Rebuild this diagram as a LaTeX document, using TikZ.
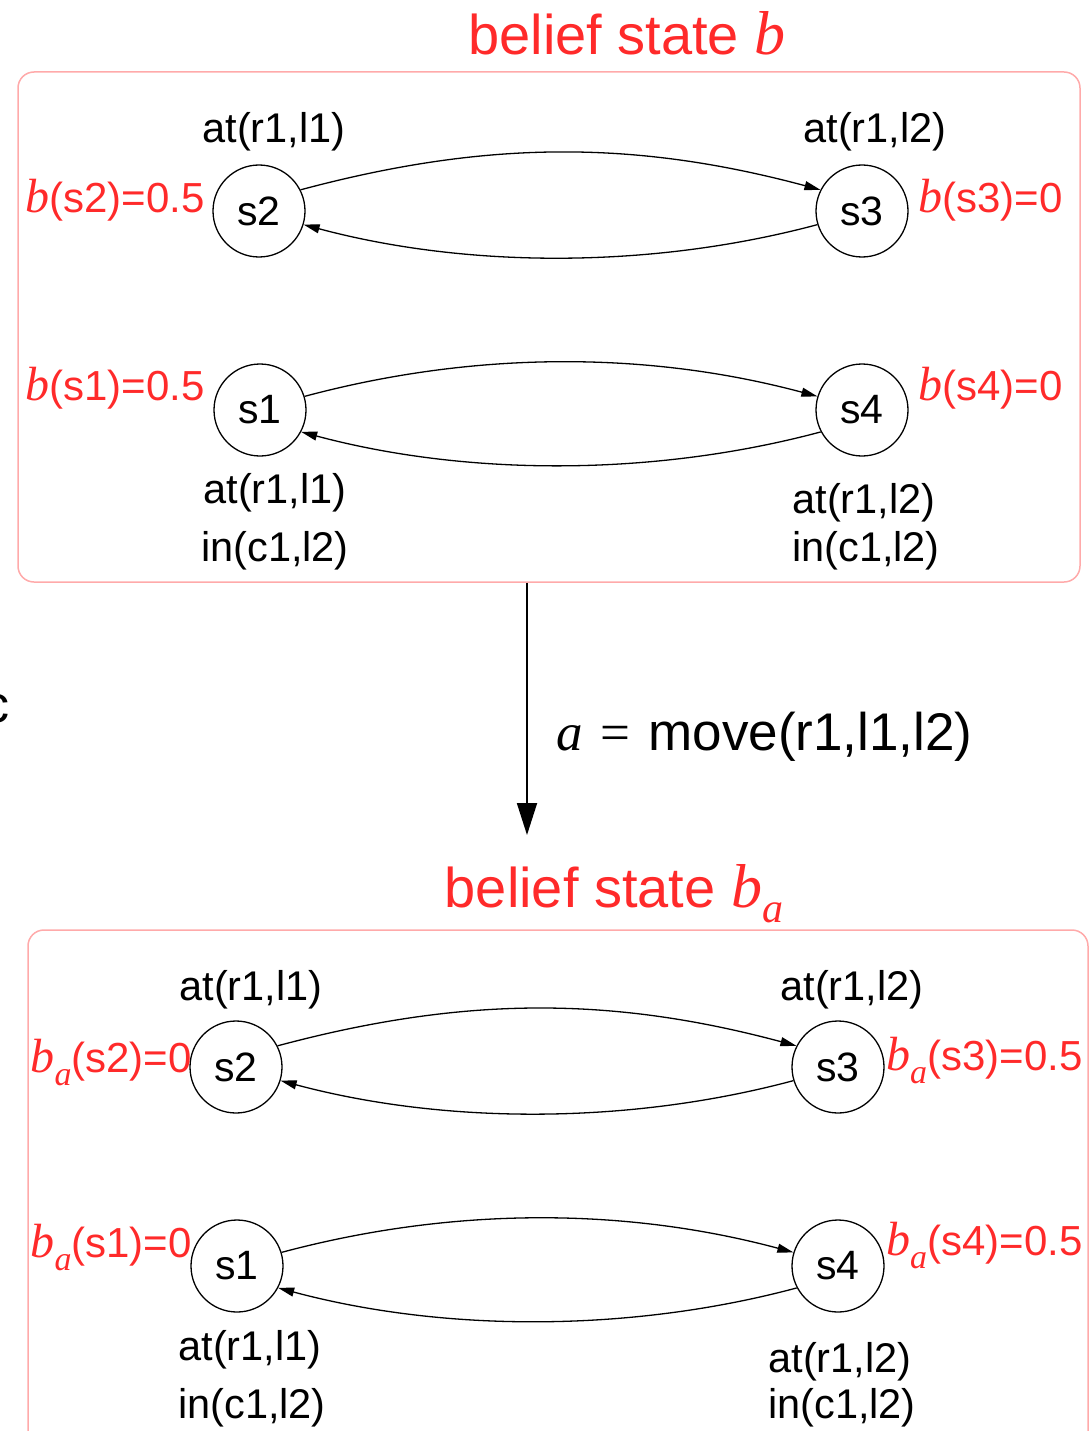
\documentclass[tikz,border=0pt]{standalone}
\usepackage{fontspec}
\setmainfont{Liberation Sans}
\newfontfamily\timesf{Liberation Serif}
\usetikzlibrary{arrows.meta}
\definecolor{lred}{HTML}{FF2A2A}
\definecolor{boxred}{HTML}{FFAAAA}
\newcommand\vb{{\timesf\itshape\fontsize{48}{50}\selectfont b}}
\newcommand\vba{{\timesf\itshape\fontsize{48}{50}\selectfont b}\raisebox{-13pt}{\timesf\itshape\fontsize{34}{36}\selectfont a}}
\begin{document}
\begin{tikzpicture}[x=1pt,y=1pt,
  st/.style={circle,draw=black,line width=1.3pt,minimum size=92pt,inner sep=0pt,font=\fontsize{41}{44}\selectfont},
  lab/.style={inner sep=0pt,anchor=base,font=\fontsize{41.5}{44}\selectfont},
  rlabl/.style={inner sep=0pt,anchor=base east,text=lred,font=\fontsize{42}{44}\selectfont},
  rlabr/.style={inner sep=0pt,anchor=base west,text=lred,font=\fontsize{42}{44}\selectfont},
  bbox/.style={draw=boxred,line width=1.5pt,rounded corners=16pt,inner sep=0pt},
  tr/.style={line width=1.3pt,-{Triangle[length=16pt,width=9pt]}},
  title/.style={inner sep=0pt,anchor=base,text=lred,font=\fontsize{56}{60}\selectfont}
]
\useasboundingbox (0,0) rectangle (1089,-1431);

% ---------- top belief state ----------
\node[title] (tb) at (627,-55) {belief state {\timesf\itshape\fontsize{62}{64}\selectfont b}};
\node[bbox,minimum width=1062pt,minimum height=510pt] (boxb) at (549,-327) {};

\node[st] (s2) at (259,-211) {s2};
\node[st] (s3) at (862,-211) {s3};
\node[st] (s1) at (260,-410) {s1};
\node[st] (s4) at (862,-410) {s4};

\draw[tr] (s2.27) to[out=15,in=165,looseness=0.95] (s3.153);
\draw[tr] (s3.197) to[out=195,in=-15,looseness=0.85] (s2.-17);
\draw[tr] (s1.17) to[out=15,in=165,looseness=0.88] (s4.163);
\draw[tr] (s4.208) to[out=195,in=-15,looseness=0.85] (s1.-28);

\node[lab] (l2) at (274,-143) {at(r1,l1)};
\node[lab] (l3) at (875,-143) {at(r1,l2)};
\node[lab] (l1a) at (275,-503) {at(r1,l1)};
\node[lab] (l1b) at (275,-561) {in(c1,l2)};
\node[lab] (l4a) at (864,-513) {at(r1,l2)};
\node[lab] (l4b) at (866,-561) {in(c1,l2)};

\node[rlabl] (b2) at (205,-213) {\vb(s2)=0.5};
\node[rlabr] (b3) at (918,-213) {\vb(s3)=0};
\node[rlabl] (b1) at (205,-400) {\vb(s1)=0.5};
\node[rlabr] (b4) at (918,-400) {\vb(s4)=0};

% ---------- action ----------
\coordinate (tip) at (527,-835);
\draw[line width=1.8pt,-{Triangle[length=32pt,width=20pt]}] (tip |- boxb.south) -- (tip);
\node[inner sep=0pt,anchor=base west,font=\fontsize{53}{60}\selectfont] (act) at (556,-750)
  {{\timesf\itshape a}\hspace{18pt}{\timesf =}\hspace{18pt}move(r1,l1,l2)};
\node[inner sep=0pt,anchor=base east,font=\fontsize{52}{60}\selectfont] (cc) at (10,-722) {c};

% ---------- bottom belief state ----------
\node[title] (tba) at (614,-907) {belief state {\timesf\itshape\fontsize{62}{64}\selectfont b}\raisebox{-15pt}{\timesf\itshape\fontsize{42}{44}\selectfont a}};
\node[bbox,minimum width=1060pt,minimum height=560pt] (boxba) at (558,-1210) {};

\node[st] (t2) at (236,-1067) {s2};
\node[st] (t3) at (838,-1067) {s3};
\node[st] (t1) at (237,-1266) {s1};
\node[st] (t4) at (838,-1266) {s4};

\draw[tr] (t2.27) to[out=15,in=165,looseness=0.95] (t3.153);
\draw[tr] (t3.197) to[out=195,in=-15,looseness=0.85] (t2.-17);
\draw[tr] (t1.17) to[out=15,in=165,looseness=0.88] (t4.163);
\draw[tr] (t4.208) to[out=195,in=-15,looseness=0.85] (t1.-28);

\node[lab] (m2) at (251,-1000) {at(r1,l1)};
\node[lab] (m3) at (852,-1000) {at(r1,l2)};
\node[lab] (m1a) at (250,-1360) {at(r1,l1)};
\node[lab] (m1b) at (252,-1418) {in(c1,l2)};
\node[lab] (m4a) at (840,-1372) {at(r1,l2)};
\node[lab] (m4b) at (842,-1418) {in(c1,l2)};

\node[rlabl] (c2) at (192,-1072) {\vba(s2)=0};
\node[rlabr] (c3) at (886,-1070) {\vba(s3)=0.5};
\node[rlabl] (c1) at (192,-1257) {\vba(s1)=0};
\node[rlabr] (c4) at (886,-1255) {\vba(s4)=0.5};
\end{tikzpicture}
\end{document}
